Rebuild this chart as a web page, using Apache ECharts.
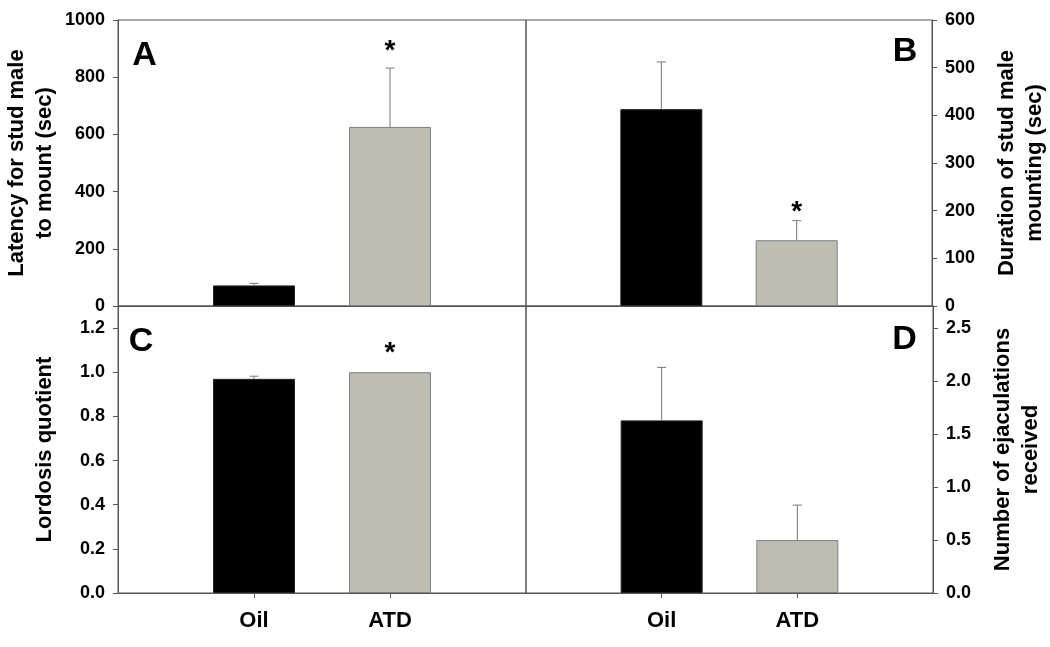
<!DOCTYPE html>
<html>
<head>
<meta charset="utf-8">
<script src="https://cdn.jsdelivr.net/npm/echarts@6/dist/echarts.min.js"></script>
<style>
html,body{margin:0;padding:0;background:#fff;}
#chart{width:1050px;height:647px;}
</style>
</head>
<body>
<div id="chart"></div>
<script>
// ---- data ----
var categories = ['', 'Oil', 'ATD', ''];
var groupIndex = [1, 2];

var latencyMean = [72, 626];
var latencySem = [7, 206];
var durationMean = [413, 138];
var durationSem = [99, 41];
var lordosisMean = [0.97, 1.00];
var lordosisSem = [0.012, 0];
var ejacMean = [1.63, 0.50];
var ejacSem = [0.50, 0.33];

// significance markers: [category index, value level]
var sigA = [[2, 890]];
var sigB = [[2, 196]];
var sigC = [[2, 1.087]];
var sigD = [];

var ticksA = [0, 200, 400, 600, 800, 1000];
var ticksB = [0, 100, 200, 300, 400, 500, 600];
var ticksC = [0, 0.2, 0.4, 0.6, 0.8, 1.0, 1.2];
var ticksD = [0, 0.5, 1.0, 1.5, 2.0, 2.5];

var panelLetters = ['A', 'B', 'C', 'D'];
var yTitles = ['Latency for stud male\nto mount (sec)', 'Duration of stud male\nmounting (sec)', 'Lordosis quotient', 'Number of ejaculations\nreceived'];

// ---- style ----
var FONT = '"Liberation Sans", Arial, sans-serif';
var AXIS_COLOR = '#555';
var BLACK_BAR = '#000000';
var GRAY_BAR = '#bdbdb3';
var ERR_COLOR = '#777';

var chart = echarts.init(document.getElementById('chart'), null, {renderer: 'canvas'});

var grids = [
  {left: 118, top: 20, width: 408, height: 286},
  {left: 526, top: 20, width: 407, height: 286},
  {left: 118, top: 306, width: 408, height: 287},
  {left: 526, top: 306, width: 407, height: 287}
].map(function (g) {
  return Object.assign({show: true, borderColor: AXIS_COLOR, borderWidth: 1, backgroundColor: 'transparent', containLabel: false}, g);
});

function xAxisFor(gi, showLabels) {
  return {
    gridIndex: gi,
    type: 'category',
    data: categories,
    boundaryGap: false,
    axisLine: {show: true, lineStyle: {color: AXIS_COLOR, width: 1}},
    axisTick: {show: showLabels, length: 5, lineStyle: {color: AXIS_COLOR},
      interval: function (idx) { return idx === 1 || idx === 2; }},
    axisLabel: {show: showLabels, interval: 0, margin: 17,
      fontFamily: FONT, fontWeight: 'bold', fontSize: 22, color: '#000'},
    splitLine: {show: false}
  };
}

function yAxisFor(gi, pos, max, ticks, title, gap, decimals) {
  return {
    gridIndex: gi,
    type: 'value',
    position: pos,
    min: 0,
    max: max,
    axisLine: {show: true, lineStyle: {color: AXIS_COLOR, width: 1}},
    axisTick: {show: true, length: 5, lineStyle: {color: AXIS_COLOR}, customValues: ticks},
    axisLabel: {show: true, margin: 13, customValues: ticks,
      fontFamily: FONT, fontWeight: 'bold', fontSize: 18, color: '#000',
      formatter: function (v) { return decimals ? Number(v).toFixed(decimals) : String(Math.round(v)); }},
    splitLine: {show: false},
    name: title,
    nameLocation: 'middle',
    nameRotate: 90,
    nameGap: gap,
    nameTextStyle: {fontFamily: FONT, fontWeight: 'bold', fontSize: 22, color: '#000', lineHeight: 28}
  };
}

function barSeries(idx, means) {
  return {
    type: 'bar',
    xAxisIndex: idx, yAxisIndex: idx,
    barWidth: 82,
    data: groupIndex.map(function (ci, k) {
      return {
        value: [ci, means[k]],
        itemStyle: k === 0
          ? {color: BLACK_BAR, borderColor: '#222', borderWidth: 1}
          : {color: GRAY_BAR, borderColor: '#7f7f7f', borderWidth: 1}
      };
    }),
    encode: {x: 0, y: 1},
    silent: true,
    z: 2
  };
}

function errRender(params, api) {
  var x = api.value(0), v = api.value(1), e = api.value(2);
  if (!(e > 0)) return null;
  var base = api.coord([x, v]);
  var top = api.coord([x, v + e]);
  var hw = 4.5;
  return {
    type: 'group',
    children: [
      {type: 'line', shape: {x1: base[0], y1: base[1], x2: top[0], y2: top[1]}, style: {stroke: ERR_COLOR, lineWidth: 1}},
      {type: 'line', shape: {x1: top[0] - hw, y1: top[1], x2: top[0] + hw, y2: top[1]}, style: {stroke: ERR_COLOR, lineWidth: 1}}
    ]
  };
}

function errSeries(idx, means, sems) {
  return {
    type: 'custom',
    xAxisIndex: idx, yAxisIndex: idx,
    renderItem: errRender,
    data: groupIndex.map(function (ci, k) { return [ci, means[k], sems[k]]; }),
    encode: {x: 0, y: 1},
    silent: true,
    z: 3
  };
}

function sigSeries(idx, marks) {
  return {
    type: 'custom',
    xAxisIndex: idx, yAxisIndex: idx,
    renderItem: function (params, api) {
      var p = api.coord([api.value(0), api.value(1)]);
      return {type: 'text', x: p[0], y: p[1],
        style: {text: '*', fill: '#000', font: 'bold 28px ' + FONT, align: 'center', verticalAlign: 'middle'}};
    },
    data: marks,
    encode: {x: 0, y: 1},
    silent: true,
    z: 4
  };
}

var letterPos = [[144.5, 56], [905, 52], [141, 341.5], [904.5, 340]];

var option = {
  animation: false,
  backgroundColor: '#ffffff',
  grid: grids,
  xAxis: [xAxisFor(0, false), xAxisFor(1, false), xAxisFor(2, true), xAxisFor(3, true)],
  yAxis: [
    yAxisFor(0, 'left', 1000, ticksA, yTitles[0], 59, 0),
    yAxisFor(1, 'right', 600, ticksB, yTitles[1], 61, 0),
    yAxisFor(2, 'left', 1.3, ticksC, yTitles[2], 59, 1),
    yAxisFor(3, 'right', 2.71, ticksD, yTitles[3], 56, 1)
  ],
  series: [
    barSeries(0, latencyMean), errSeries(0, latencyMean, latencySem), sigSeries(0, sigA),
    barSeries(1, durationMean), errSeries(1, durationMean, durationSem), sigSeries(1, sigB),
    barSeries(2, lordosisMean), errSeries(2, lordosisMean, lordosisSem), sigSeries(2, sigC),
    barSeries(3, ejacMean), errSeries(3, ejacMean, ejacSem), sigSeries(3, sigD)
  ],
  graphic: panelLetters.map(function (L, i) {
    return {type: 'text', x: letterPos[i][0], y: letterPos[i][1], z: 10, silent: true,
      style: {text: L, fill: '#000', font: 'bold 34px ' + FONT, align: 'center', verticalAlign: 'middle'}};
  })
};

chart.setOption(option);
</script>
</body>
</html>
